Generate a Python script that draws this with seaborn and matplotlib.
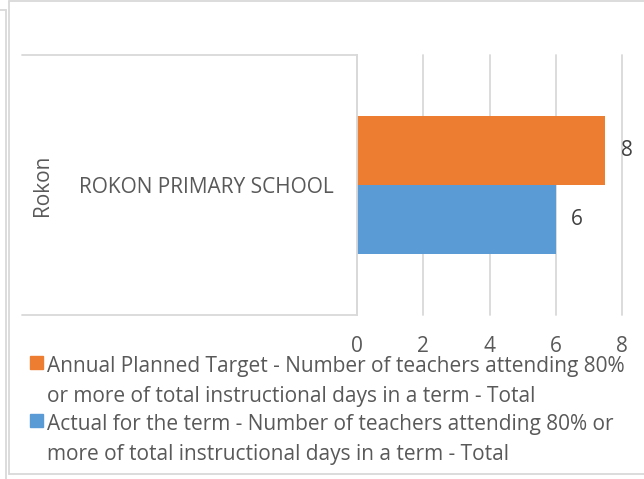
import textwrap
import pandas as pd
import matplotlib
matplotlib.use("Agg")
import matplotlib.pyplot as plt
from matplotlib.lines import Line2D
import matplotlib.transforms as mtransforms
import seaborn as sns

# chart data
region = "Rokon"
schools = ["ROKON PRIMARY SCHOOL"]
series = [
    "Annual Planned Target - Number of teachers attending 80% or more of total instructional days in a term - Total",
    "Actual for the term - Number of teachers attending 80% or more of total instructional days in a term - Total",
]
target_values = [7.5]
actual_values = [6]
xticks = [0, 2, 4, 6, 8]

colors = ["#ED7D31", "#5B9BD5"]
grey = "#d9d9d9"
txt = "#595959"

sns.set_theme(style="white")
plt.rcParams["font.family"] = ["Open Sans", "DejaVu Sans"]
plt.rcParams["font.size"] = 15

df = pd.DataFrame({
    "school": schools * 2,
    "series": [series[0]] * len(schools) + [series[1]] * len(schools),
    "value": target_values + actual_values,
})

W, H = 644, 479
fig = plt.figure(figsize=(W / 100, H / 100), dpi=100)
fig.patch.set_facecolor("white")
ax = fig.add_axes([357 / W, 1 - 315 / H, (622 - 357) / W, 260 / H])

sns.barplot(data=df, x="value", y="school", hue="series", hue_order=series,
            palette=colors, orient="h", width=0.527, saturation=1,
            linewidth=0, legend=False, ax=ax)

ax.set_xlim(0, 8)
ax.set_ylim(0.5, -0.5)
ax.set_xticks(xticks)
ax.set_xlabel("")
ax.set_ylabel("")
ax.grid(axis="x", color=grey, lw=1.3)
ax.set_axisbelow(True)
for s in ["top", "right", "bottom"]:
    ax.spines[s].set_visible(False)
ax.spines["left"].set_color(grey)
ax.spines["left"].set_linewidth(1.3)
ax.tick_params(axis="x", length=0, pad=15, colors=txt, labelsize=15)
ax.tick_params(axis="y", length=0, pad=17, colors=txt, labelsize=15)
for g in ax.get_xgridlines():
    g.set_clip_on(False)

for c in ax.containers:
    ax.bar_label(c, fmt="{:.0f}", padding=11, color="#404040", fontsize=15)

# group label on the category axis
trans = mtransforms.blended_transform_factory(fig.transFigure, ax.transData)
ax.text(43 / W, 0, region, transform=trans, rotation=90, ha="center",
        va="center", color=txt, fontsize=15, clip_on=False)

# category box and outer frame
def fline(xs, ys, **kw):
    fig.add_artist(Line2D([x / W for x in xs], [1 - y / H for y in ys],
                          color=grey, lw=1.3, **kw))

fline([22, 357], [55, 55])
fline([22, 357], [315, 315])
fline([9, 644], [1, 1])
fline([9, 9], [1, 474])
fline([9, 644], [474, 474])
fline([0, 6], [10, 10])
fline([6, 6], [10, 479])

# legend
handles = [plt.Rectangle((0, 0), 1, 1, color=c) for c in colors]
labels = [textwrap.fill(s, 57) for s in series]
leg = ax.legend(handles, labels, loc="upper left",
                bbox_to_anchor=(30 / W, 1 - 356 / H), bbox_transform=fig.transFigure,
                frameon=False, handlelength=0.6, handleheight=0.6,
                handletextpad=0.22, labelspacing=0.35, borderpad=0,
                borderaxespad=0, fontsize=15, labelcolor=txt)
for t in leg.get_texts():
    t.set_linespacing(1.55)
for col in leg._legend_handle_box.get_children():
    for item in col.get_children():
        item.align = "top"

fig.savefig("out.png", dpi=100, facecolor="white")
